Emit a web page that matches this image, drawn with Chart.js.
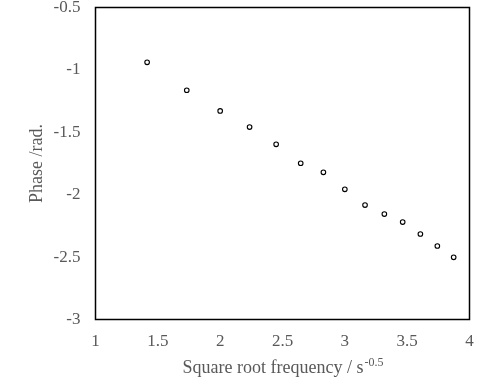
<!DOCTYPE html>
<html>
<head>
<meta charset="utf-8">
<script src="https://cdn.jsdelivr.net/npm/chart.js@4"></script>
<style>
  html, body { margin: 0; padding: 0; background: #fff; }
  #wrap { width: 498px; height: 379px; position: relative; }
</style>
</head>
<body>
<div id="wrap"><canvas id="c" width="498" height="379"></canvas></div>
<script>
const sqrtFrequency = [1.414, 1.732, 2.0, 2.236, 2.449, 2.646, 2.828, 3.0, 3.162, 3.317, 3.464, 3.606, 3.742, 3.873];
const phase = [-0.939, -1.163, -1.329, -1.458, -1.596, -1.748, -1.821, -1.957, -2.083, -2.155, -2.219, -2.315, -2.411, -2.502];
const xTitle = 'Square root frequency / s';
const xTitleSup = '-0.5';
const yTitle = 'Phase /rad.';

const textColor = '#595959';
const serif = "'Liberation Serif', 'Times New Roman', serif";

const points = sqrtFrequency.map((x, i) => ({ x: x, y: phase[i] }));

const framePlugin = {
  id: 'frame',
  afterDatasetsDraw(chart) {
    const { ctx, chartArea: a } = chart;
    ctx.save();
    ctx.strokeStyle = '#000';
    ctx.lineWidth = 1.5;
    ctx.strokeRect(a.left, a.top, a.right - a.left, a.bottom - a.top);
    ctx.restore();
  },
  afterDraw(chart) {
    const { ctx, chartArea: a } = chart;
    ctx.save();
    ctx.fillStyle = textColor;
    ctx.textBaseline = 'alphabetic';
    ctx.font = '18px ' + serif;
    const w1 = ctx.measureText(xTitle).width;
    ctx.font = '12px ' + serif;
    const w2 = ctx.measureText(xTitleSup).width;
    const total = w1 + w2;
    const cx = (a.left + a.right) / 2;
    const x0 = cx - total / 2;
    const baseY = 373;
    ctx.font = '18px ' + serif;
    ctx.fillText(xTitle, x0, baseY);
    ctx.font = '12px ' + serif;
    ctx.fillText(xTitleSup, x0 + w1 + 1, baseY - 7);
    ctx.restore();
  }
};

new Chart(document.getElementById('c'), {
  type: 'scatter',
  data: {
    datasets: [{
      data: points,
      pointStyle: 'circle',
      pointRadius: 2.3,
      pointBorderWidth: 1.1,
      pointBorderColor: '#000',
      pointBackgroundColor: '#fff',
      showLine: false
    }]
  },
  options: {
    responsive: false,
    animation: false,
    layout: { padding: { top: 7.5, right: 28.5, left: 0, bottom: 0 } },
    plugins: { legend: { display: false }, tooltip: { enabled: false } },
    scales: {
      x: {
        type: 'linear',
        min: 1, max: 4,
        grid: { display: false, drawTicks: false },
        border: { display: false },
        ticks: {
          stepSize: 0.5,
          color: textColor,
          font: { family: serif, size: 17 },
          padding: 12,
          maxRotation: 0,
          callback: v => String(v)
        },
        afterFit(scale) { scale.height = 59.5; scale.paddingLeft = 0; scale.paddingRight = 0; }
      },
      y: {
        type: 'linear',
        min: -3, max: -0.5,
        grid: { display: false, drawTicks: false },
        border: { display: false },
        ticks: {
          stepSize: 0.5,
          color: textColor,
          font: { family: serif, size: 17 },
          padding: 15,
          callback: v => String(v)
        },
        title: {
          display: true,
          text: yTitle,
          color: textColor,
          font: { family: serif, size: 18 },
          padding: { top: 26, bottom: 0 }
        },
        afterFit(scale) { scale.width = 95.5; scale.paddingTop = 0; scale.paddingBottom = 0; }
      }
    }
  },
  plugins: [framePlugin]
});
</script>
</body>
</html>
